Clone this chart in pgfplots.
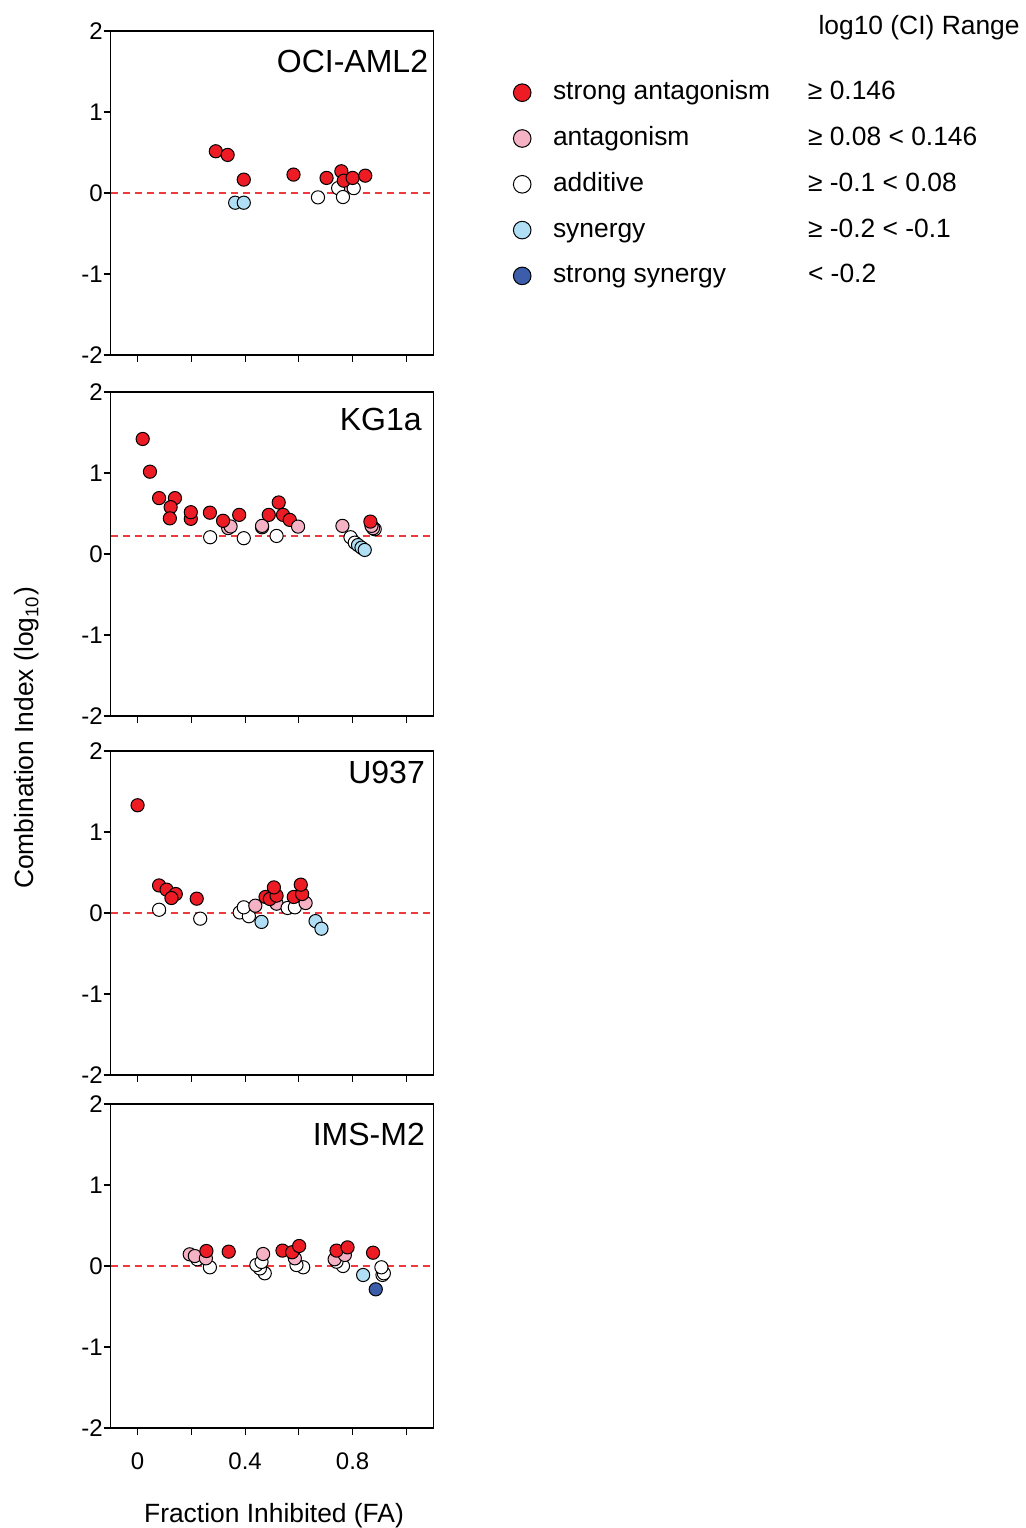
\documentclass[border=0pt]{standalone}
\usepackage{fontspec}
\setmainfont{Liberation Sans}
\usepackage{pgfplots}
\usepackage{pgfplotstable}
\pgfplotsset{compat=1.18}
\definecolor{cSA}{HTML}{ED1C24}
\definecolor{cA}{HTML}{F5B2C5}
\definecolor{cS}{HTML}{B0DFF5}
\definecolor{cSS}{HTML}{3C5DAA}
\definecolor{cDash}{HTML}{EE3A3F}

\pgfplotstableread{
x y c
0.291 0.515 sa
0.335 0.47 sa
0.395 0.165 sa
0.363 -0.12 s
0.395 -0.12 s
0.58 0.227 sa
0.703 0.186 sa
0.671 -0.054 ad
0.771 0.08 a
0.746 0.06 ad
0.764 -0.05 ad
0.804 0.06 ad
0.758 0.268 sa
0.767 0.152 sa
0.80 0.186 sa
0.847 0.214 sa
}\ociaml

\pgfplotstableread{
x y c
0.019 1.42 sa
0.046 1.016 sa
0.08 0.69 sa
0.139 0.69 sa
0.123 0.578 sa
0.12 0.44 sa
0.198 0.434 sa
0.198 0.516 sa
0.269 0.51 sa
0.27 0.207 ad
0.337 0.32 a
0.346 0.34 a
0.318 0.41 sa
0.378 0.483 sa
0.395 0.195 ad
0.463 0.33 a
0.463 0.347 a
0.488 0.483 sa
0.517 0.223 ad
0.525 0.636 sa
0.541 0.483 sa
0.566 0.421 sa
0.597 0.338 a
0.762 0.347 a
0.792 0.207 ad
0.808 0.14 ad
0.82 0.11 s
0.833 0.078 s
0.845 0.05 s
0.882 0.306 ad
0.876 0.318 a
0.87 0.347 a
0.866 0.40 sa
}\kga

\pgfplotstableread{
x y c
0.0 1.33 sa
0.08 0.04 ad
0.08 0.34 sa
0.108 0.288 sa
0.142 0.234 sa
0.126 0.185 sa
0.22 0.177 sa
0.233 -0.07 ad
0.38 0.007 ad
0.414 -0.04 ad
0.395 0.07 ad
0.438 0.09 a
0.461 -0.11 s
0.517 0.115 a
0.476 0.198 sa
0.492 0.173 sa
0.517 0.214 sa
0.507 0.316 sa
0.558 0.062 ad
0.585 0.07 ad
0.625 0.123 a
0.581 0.198 sa
0.612 0.234 sa
0.607 0.35 sa
0.662 -0.10 s
0.684 -0.194 s
}\uninethree

\pgfplotstableread{
x y c
0.269 -0.016 ad
0.222 0.083 ad
0.194 0.144 a
0.213 0.123 a
0.254 0.095 a
0.256 0.185 sa
0.339 0.177 sa
0.473 -0.09 ad
0.455 -0.03 ad
0.442 0.012 ad
0.461 0.05 ad
0.467 0.148 a
0.616 -0.016 ad
0.591 0.012 ad
0.585 0.095 a
0.539 0.19 sa
0.575 0.17 sa
0.601 0.247 sa
0.764 0.0 ad
0.74 0.053 ad
0.733 0.083 a
0.771 0.136 a
0.74 0.19 sa
0.781 0.23 sa
0.876 0.164 sa
0.839 -0.111 s
0.911 -0.11 ad
0.916 -0.09 ad
0.907 -0.016 ad
0.886 -0.288 ss
}\imsm

\tikzset{ttl/.style={anchor=base east, inner sep=0pt, font=\fontsize{16}{19}\selectfont}}

\pgfplotsset{
  panel/.style={
    width=161.3pt, height=162pt, scale only axis, anchor=south west,
    xmin=-0.1, xmax=1.1, ymin=-2, ymax=2,
    axis line style={black, line width=0.6pt},
    tick align=outside, xtick pos=bottom, ytick pos=left,
    xtick={0,0.4,0.8}, minor xtick={0.2,0.6,1.0},
    ytick={-2,-1,0,1,2}, yticklabels={-2,-1,0,1,2},
    major tick length=3.5pt, minor tick length=3.5pt,
    every tick/.style={black, line width=0.6pt},
    every minor tick/.style={black, line width=0.6pt},
    tick label style={font=\fontsize{12}{14}\selectfont},
    yticklabel style={xshift=3pt},
    /pgf/number format/assume math mode=true,
    clip=false,
  },
  cls/.style={scatter, only marks, scatter src=explicit symbolic, mark size=3.3pt,
    scatter/classes={
      sa={mark=*, draw=black, fill=cSA, line width=0.5pt},
      a={mark=*, draw=black, fill=cA, line width=0.5pt},
      ad={mark=*, draw=black, fill=white, line width=0.5pt},
      s={mark=*, draw=black, fill=cS, line width=0.5pt},
      ss={mark=*, draw=black, fill=cSS, line width=0.5pt}},
    forget plot},
  dashref/.style={cDash, dash pattern=on 3.5pt off 2.5pt, line width=0.6pt, forget plot},
  lg/.style={only marks, mark=*, mark size=4.4pt, mark options={draw=black, fill=#1, line width=0.5pt}},
}

\begin{document}
\begin{tikzpicture}
\useasboundingbox (0,0) rectangle (512.5pt,764pt);

% Panel 1
\begin{axis}[panel, at={(55.35pt,586.5pt)}, xticklabels={},
  legend style={at={(1.2471,0.8509)}, anchor=north west, draw=none, fill=none,
    inner sep=0pt, row sep=9.9pt, /tikz/column sep=11pt,
    font=\fontsize{13.2}{15}\selectfont,
    nodes={inner sep=0pt, text height=10pt, text depth=3pt}},
  legend cell align=left]
\addlegendimage{lg=cSA}\addlegendentry{\makebox[127.5pt][l]{strong antagonism}≥ 0.146}
\addlegendimage{lg=cA}\addlegendentry{\makebox[127.5pt][l]{antagonism}≥ 0.08 < 0.146}
\addlegendimage{lg=white}\addlegendentry{\makebox[127.5pt][l]{additive}≥ -0.1 < 0.08}
\addlegendimage{lg=cS}\addlegendentry{\makebox[127.5pt][l]{synergy}≥ -0.2 < -0.1}
\addlegendimage{lg=cSS}\addlegendentry{\makebox[127.5pt][l]{strong synergy}< -0.2}
\addplot[dashref] coordinates {(-0.1,0) (1.1,0)};
\addplot[cls] table[x=x, y=y, meta=c] {\ociaml};
\node[ttl] at (rel axis cs:0.985,0.873) {OCI-AML2};
\end{axis}

% Panel 2
\begin{axis}[panel, at={(55.35pt,406pt)}, xticklabels={}]
\addplot[dashref] coordinates {(-0.1,0.223) (1.1,0.223)};
\addplot[cls] table[x=x, y=y, meta=c] {\kga};
\node[ttl] at (rel axis cs:0.965,0.880) {KG1a};
\end{axis}

% Panel 3
\begin{axis}[panel, at={(55.35pt,226.5pt)}, xticklabels={}]
\addplot[dashref] coordinates {(-0.1,0) (1.1,0)};
\addplot[cls] table[x=x, y=y, meta=c] {\uninethree};
\node[ttl] at (rel axis cs:0.975,0.899) {U937};
\end{axis}

% Panel 4
\begin{axis}[panel, at={(55.35pt,50pt)}, xticklabels={0,0.4,0.8},
  xticklabel style={yshift=-5.5pt}]
\addplot[dashref] coordinates {(-0.1,0) (1.1,0)};
\addplot[cls] table[x=x, y=y, meta=c] {\imsm};
\node[ttl] at (rel axis cs:0.975,0.873) {IMS-M2};
\end{axis}

\node[rotate=90, font=\fontsize{13.2}{15}\selectfont] at (13.5pt,395pt) {Combination Index (log\textsubscript{10})};
\node[anchor=base, font=\fontsize{13.2}{15}\selectfont] at (137pt,2.85pt) {Fraction Inhibited (FA)};
\node[anchor=base east, font=\fontsize{13.2}{15}\selectfont, inner sep=0pt] at (510pt,746.85pt) {log10 (CI) Range};
\end{tikzpicture}
\end{document}
